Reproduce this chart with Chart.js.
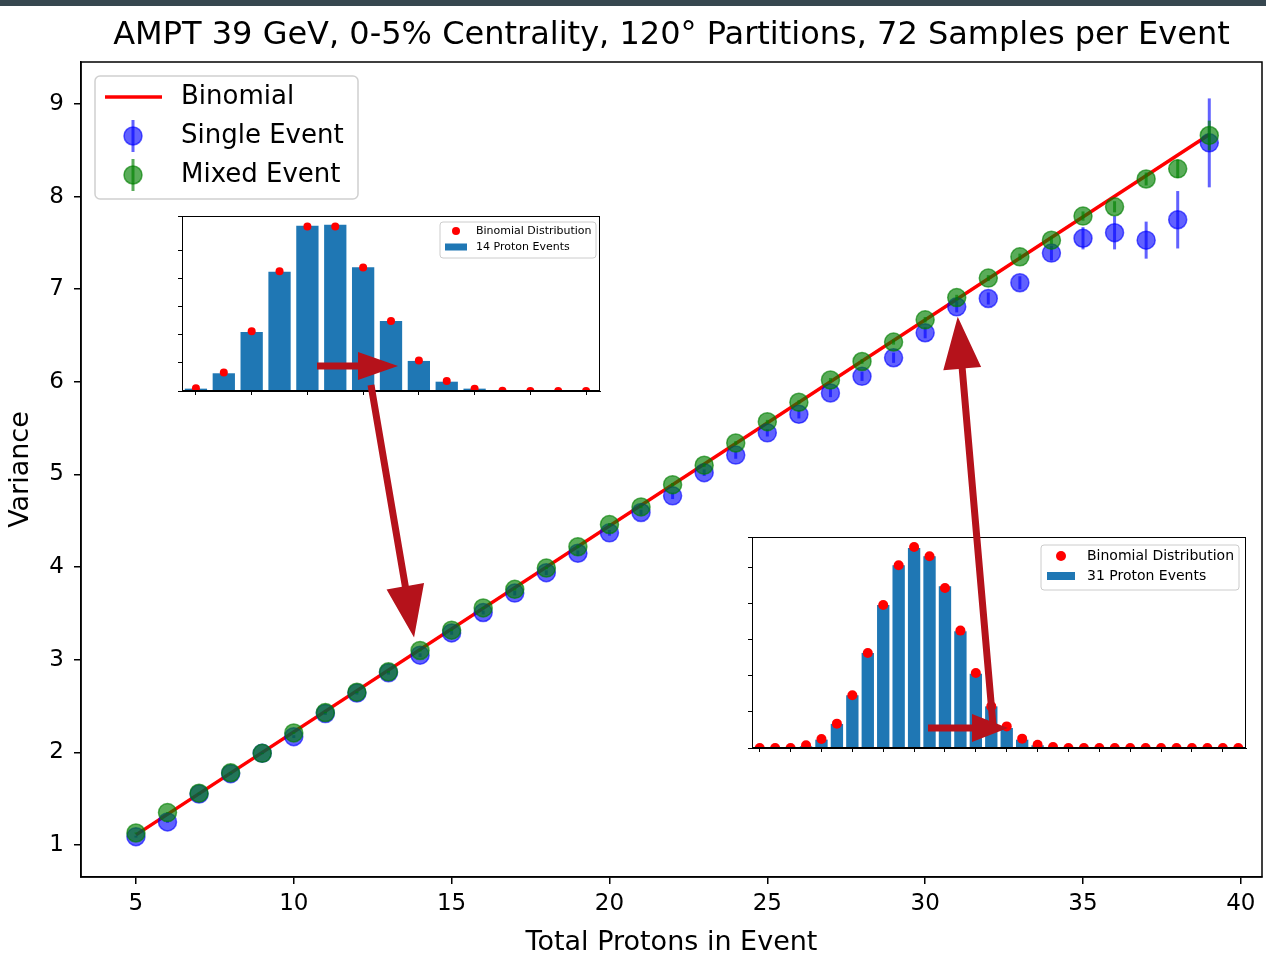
<!DOCTYPE html>
<html>
<head>
<meta charset="utf-8">
<script src="https://cdn.jsdelivr.net/npm/chart.js@4.4.0/dist/chart.umd.min.js"></script>
<style>
body{margin:0;background:#fff;}
#wrap{position:relative;width:1266px;height:962px;overflow:hidden;background:#fff;}
#topbar{position:absolute;left:0;top:0;width:1266px;height:6px;background:#37474f;}
canvas{position:absolute;}
</style>
</head>
<body>
<div id="wrap">
<canvas id="main" width="1266" height="962" style="left:0;top:0"></canvas>
<canvas id="inset1" width="430" height="186" style="left:176px;top:212px"></canvas>
<canvas id="inset2" width="506" height="222" style="left:746px;top:533px"></canvas>
<canvas id="arrows" width="1266" height="962" style="left:0;top:0"></canvas>
<div id="topbar"></div>
</div>
<script>
var FONT = 'DejaVu Sans';
Chart.defaults.font.family = FONT;
Chart.defaults.color = '#000';

var TITLE = 'AMPT 39 GeV, 0-5% Centrality, 120° Partitions, 72 Samples per Event';

// main plot: variance vs total protons
var nVals = [5,6,7,8,9,10,11,12,13,14,15,16,17,18,19,20,21,22,23,24,25,26,27,28,29,30,31,32,33,34,35,36,37,38,39];
var singleVar = [1.09,1.25,1.55,1.77,1.99,2.17,2.42,2.64,2.86,3.05,3.29,3.51,3.72,3.94,4.15,4.37,4.59,4.77,5.02,5.21,5.45,5.65,5.88,6.06,6.26,6.53,6.81,6.90,7.07,7.39,7.55,7.61,7.53,7.75,8.58];
var singleErr = [0.01,0.01,0.01,0.01,0.01,0.015,0.015,0.015,0.02,0.02,0.02,0.02,0.025,0.025,0.03,0.03,0.03,0.035,0.035,0.04,0.04,0.045,0.045,0.05,0.055,0.06,0.06,0.065,0.07,0.08,0.12,0.18,0.20,0.31,0.48];
var mixedVar = [1.13,1.35,1.56,1.78,1.99,2.21,2.43,2.65,2.87,3.10,3.32,3.56,3.76,3.99,4.22,4.46,4.65,4.89,5.10,5.34,5.57,5.78,6.02,6.22,6.43,6.67,6.91,7.12,7.35,7.53,7.79,7.89,8.19,8.30,8.66];
var mixedErr = [0.005,0.005,0.005,0.005,0.005,0.008,0.008,0.008,0.01,0.01,0.01,0.01,0.012,0.012,0.015,0.015,0.015,0.018,0.018,0.02,0.02,0.022,0.022,0.025,0.028,0.03,0.03,0.032,0.035,0.04,0.05,0.06,0.07,0.10,0.16];
var binomN = [5, 39];
var binomVar = [1.11, 8.67];
var xTicks = [5,10,15,20,25,30,35,40];
var yTicks = [1,2,3,4,5,6,7,8,9];

// inset 1: 14 proton events
var inset1K = [0,1,2,3,4,5,6,7,8,9,10,11,12,13,14];
var inset1Counts = [0.0021,0.0158,0.0527,0.1062,0.1473,0.1482,0.1104,0.0625,0.0268,0.0083,0.0021,0,0,0,0];
var inset1Binom = [0.0024,0.0164,0.0533,0.1068,0.1467,0.1467,0.1101,0.0625,0.0271,0.0089,0.0021,0.0003,0,0,0];

// inset 2: 31 proton events
var inset2K = [0,1,2,3,4,5,6,7,8,9,10,11,12,13,14,15,16,17,18,19,20,21,22,23,24,25,26,27,28,29,30,31];
var inset2Counts = [0,0,0,0.0012,0.0058,0.0167,0.0366,0.066,0.0993,0.1269,0.1389,0.1331,0.1123,0.081,0.0516,0.0289,0.0139,0.0058,0.0019,0.0005,0,0,0,0,0,0,0,0,0,0,0,0];
var inset2Binom = [0,0,0,0.0019,0.0063,0.0169,0.0366,0.066,0.0993,0.1269,0.1396,0.1331,0.1111,0.0815,0.0521,0.0289,0.015,0.0065,0.0023,0.0007,0,0,0,0,0,0,0,0,0,0,0,0];

var BLUE = 'rgba(0,0,255,0.62)';
var GREEN = 'rgba(0,128,0,0.65)';
var ARROW = '#b5121b';

function pts(xs, ys) {
    return xs.map(function (x, i) { return {x: x, y: ys[i]}; });
}

var errorBars = {
    id: 'errorBars',
    beforeDatasetDraw: function (chart, args) {
        var ds = chart.data.datasets[args.index];
        if (!ds.errors) return;
        var ctx = chart.ctx, xs = chart.scales.x, ys = chart.scales.y;
        ctx.save();
        ctx.strokeStyle = ds.borderColor;
        ctx.lineWidth = 3;
        ds.data.forEach(function (p, i) {
            var x = xs.getPixelForValue(p.x);
            ctx.beginPath();
            ctx.moveTo(x, ys.getPixelForValue(p.y - ds.errors[i]));
            ctx.lineTo(x, ys.getPixelForValue(p.y + ds.errors[i]));
            ctx.stroke();
        });
        ctx.restore();
    }
};

var mainDecor = {
    id: 'mainDecor',
    afterDraw: function (chart) {
        var ctx = chart.ctx, a = chart.chartArea;
        ctx.save();
        ctx.strokeStyle = '#000';
        ctx.lineWidth = 1.5;
        ctx.strokeRect(a.left, a.top, a.right - a.left, a.bottom - a.top);

        // title, centred over the axes
        ctx.font = '32px "' + FONT + '"';
        ctx.fillStyle = '#000';
        ctx.textAlign = 'center';
        ctx.textBaseline = 'middle';
        ctx.fillText(TITLE, (a.left + a.right) / 2, a.top - 26);

        // legend box
        var bx = a.left + 14, by = a.top + 14;
        ctx.beginPath();
        ctx.roundRect(bx, by, 263, 123, 5);
        ctx.fillStyle = 'rgba(255,255,255,0.8)';
        ctx.fill();
        ctx.strokeStyle = '#d0d0d0';
        ctx.lineWidth = 1.5;
        ctx.stroke();

        ctx.font = '26px "' + FONT + '"';
        ctx.textBaseline = 'middle';
        ctx.textAlign = 'left';
        var ds = chart.data.datasets;
        [0, 1, 2].forEach(function (k, row) {
            var d = ds[k], y = by + 21 + row * 39, mx = bx + 38;
            if (d.errors) {
                ctx.strokeStyle = d.borderColor;
                ctx.lineWidth = 3;
                ctx.beginPath();
                ctx.moveTo(mx, y - 16);
                ctx.lineTo(mx, y + 16);
                ctx.stroke();
                ctx.beginPath();
                ctx.arc(mx, y, 9, 0, Math.PI * 2);
                ctx.fillStyle = d.backgroundColor;
                ctx.fill();
                ctx.lineWidth = 1.5;
                ctx.stroke();
            } else {
                ctx.strokeStyle = d.borderColor;
                ctx.lineWidth = 3.5;
                ctx.beginPath();
                ctx.moveTo(bx + 10, y);
                ctx.lineTo(bx + 67, y);
                ctx.stroke();
            }
            ctx.fillStyle = '#000';
            ctx.fillText(d.label, bx + 86, y);
        });
        ctx.restore();
    }
};

var mainChart = new Chart(document.getElementById('main'), {
    type: 'scatter',
    data: {
        datasets: [
            {
                label: 'Binomial',
                type: 'line',
                data: pts(binomN, binomVar),
                borderColor: '#ff0000',
                borderWidth: 3.5,
                pointRadius: 0,
                fill: false,
                order: 3
            },
            {
                label: 'Single Event',
                data: pts(nVals, singleVar),
                errors: singleErr,
                backgroundColor: BLUE,
                borderColor: BLUE,
                borderWidth: 1.5,
                pointRadius: 9,
                order: 2
            },
            {
                label: 'Mixed Event',
                data: pts(nVals, mixedVar),
                errors: mixedErr,
                backgroundColor: GREEN,
                borderColor: GREEN,
                borderWidth: 1.5,
                pointRadius: 9,
                order: 1
            }
        ]
    },
    options: {
        responsive: false,
        animation: false,
        layout: {autoPadding: false, padding: {left: 0, right: 4, top: 62, bottom: 0}},
        plugins: {
            legend: {display: false},
            tooltip: {enabled: false},
            title: {display: false}
        },
        scales: {
            x: {
                type: 'linear',
                min: 3.26,
                max: 40.67,
                afterBuildTicks: function (s) { s.ticks = xTicks.map(function (v) { return {value: v}; }); },
                afterFit: function (s) { s.height = 85; s.paddingLeft = 0; s.paddingRight = 0; },
                grid: {drawOnChartArea: false, tickLength: 7, color: '#000', lineWidth: 1.5},
                border: {color: '#000', width: 1.5},
                ticks: {font: {size: 23}, color: '#000', padding: 6, maxRotation: 0},
                title: {display: true, text: 'Total Protons in Event', font: {size: 27}, color: '#000', padding: {top: 4, bottom: 3}}
            },
            y: {
                type: 'linear',
                min: 0.655,
                max: 9.453,
                afterBuildTicks: function (s) { s.ticks = yTicks.map(function (v) { return {value: v}; }); },
                afterFit: function (s) { s.width = 81; s.paddingTop = 0; s.paddingBottom = 0; },
                grid: {drawOnChartArea: false, tickLength: 7, color: '#000', lineWidth: 1.5},
                border: {color: '#000', width: 1.5},
                ticks: {font: {size: 23}, color: '#000', padding: 10},
                title: {display: true, text: 'Variance', font: {size: 27}, color: '#000', padding: {top: 5, bottom: 0}}
            }
        }
    },
    plugins: [errorBars, mainDecor]
});

function insetDecor(lg) {
    return {
        id: 'insetDecor',
        beforeDraw: function (chart) {
            var ctx = chart.ctx, a = chart.chartArea;
            ctx.save();
            ctx.fillStyle = '#fff';
            ctx.fillRect(a.left, a.top, a.right - a.left, a.bottom - a.top);
            ctx.restore();
        },
        afterDraw: function (chart) {
            var ctx = chart.ctx, a = chart.chartArea;
            ctx.save();
            ctx.strokeStyle = '#000';
            ctx.lineWidth = 1;
            ctx.strokeRect(a.left + 0.5, a.top + 0.5, a.right - a.left - 1, a.bottom - a.top - 1);

            var bx = a.right - lg.right - lg.w, by = a.top + lg.top;
            ctx.beginPath();
            ctx.roundRect(bx, by, lg.w, lg.h, 3);
            ctx.fillStyle = 'rgba(255,255,255,0.85)';
            ctx.fill();
            ctx.strokeStyle = '#cccccc';
            ctx.stroke();

            var ds = chart.data.datasets;
            ctx.font = lg.font + 'px "' + FONT + '"';
            ctx.textBaseline = 'middle';
            ctx.textAlign = 'left';
            // binomial dots
            ctx.fillStyle = '#ff0000';
            ctx.beginPath();
            ctx.arc(bx + lg.dotX, by + lg.row1, lg.dotR, 0, Math.PI * 2);
            ctx.fill();
            ctx.fillStyle = '#000';
            ctx.fillText(ds[0].label, bx + lg.textX, by + lg.row1);
            // bars
            ctx.fillStyle = '#1f77b4';
            ctx.fillRect(bx + lg.rectX, by + lg.row2 - lg.rectH / 2, lg.rectW, lg.rectH);
            ctx.fillStyle = '#000';
            ctx.fillText(ds[1].label, bx + lg.textX, by + lg.row2);
            ctx.restore();
        }
    };
}

function makeInset(id, labels, counts, binom, yMax, dotR, countLabel, lg) {
    return new Chart(document.getElementById(id), {
        type: 'bar',
        data: {
            labels: labels,
            datasets: [
                {
                    type: 'line',
                    label: 'Binomial Distribution',
                    data: binom,
                    showLine: false,
                    pointRadius: dotR,
                    pointBackgroundColor: '#ff0000',
                    pointBorderColor: '#ff0000',
                    pointBorderWidth: 0,
                    clip: 0,
                    order: 0
                },
                {
                    label: countLabel,
                    data: counts,
                    backgroundColor: '#1f77b4',
                    barPercentage: 0.8,
                    categoryPercentage: 1,
                    order: 1
                }
            ]
        },
        options: {
            responsive: false,
            animation: false,
            layout: {autoPadding: false, padding: {top: 4, right: 6, left: 0, bottom: 0}},
            plugins: {legend: {display: false}, tooltip: {enabled: false}},
            scales: {
                x: {
                    grid: {
                        offset: false,
                        drawOnChartArea: false,
                        tickLength: 4,
                        color: function (c) { return c.index % 2 === 0 ? '#000' : 'rgba(0,0,0,0)'; }
                    },
                    border: {color: '#000'},
                    ticks: {display: false, autoSkip: false},
                    afterFit: function (s) { s.height = 7; }
                },
                y: {
                    min: 0,
                    max: yMax,
                    ticks: {display: false, stepSize: 0.025},
                    grid: {drawOnChartArea: false, tickLength: 4, color: '#000'},
                    border: {color: '#000'},
                    afterFit: function (s) { s.width = 6; }
                }
            }
        },
        plugins: [insetDecor(lg)]
    });
}

var inset1 = makeInset('inset1', inset1K, inset1Counts, inset1Binom, 0.156, 4, '14 Proton Events',
    {right: 4, top: 6, w: 156, h: 36, font: 11, row1: 9, row2: 25, dotX: 16, dotR: 4, rectX: 5, rectW: 22, rectH: 7, textX: 36});
var inset2 = makeInset('inset2', inset2K, inset2Counts, inset2Binom, 0.1465, 5, '31 Proton Events',
    {right: 7, top: 8, w: 198, h: 45, font: 14, row1: 11, row2: 31, dotX: 20, dotR: 5, rectX: 6, rectW: 28, rectH: 8, textX: 46});

// annotation arrows, tips anchored to the main plot's data points
function arrow(ctx, x0, y0, x1, y1, w, hl, hw) {
    var dx = x1 - x0, dy = y1 - y0, len = Math.hypot(dx, dy);
    var ux = dx / len, uy = dy / len, px = -uy, py = ux;
    var bx = x1 - ux * hl, by = y1 - uy * hl;
    ctx.beginPath();
    ctx.moveTo(x0 + px * w / 2, y0 + py * w / 2);
    ctx.lineTo(bx + px * w / 2, by + py * w / 2);
    ctx.lineTo(bx + px * hw / 2, by + py * hw / 2);
    ctx.lineTo(x1, y1);
    ctx.lineTo(bx - px * hw / 2, by - py * hw / 2);
    ctx.lineTo(bx - px * w / 2, by - py * w / 2);
    ctx.lineTo(x0 - px * w / 2, y0 - py * w / 2);
    ctx.closePath();
    ctx.fill();
}

var actx = document.getElementById('arrows').getContext('2d');
actx.fillStyle = ARROW;
var sx = mainChart.scales.x, sy = mainChart.scales.y;
var tip1 = {x: sx.getPixelForValue(14) - 6, y: sy.getPixelForValue(mixedVar[9]) - 13};
var tip2 = {x: sx.getPixelForValue(31) + 1, y: sy.getPixelForValue(singleVar[26]) + 10};
arrow(actx, 371, 385, tip1.x, tip1.y, 7, 52, 38);
arrow(actx, 993, 725, tip2.x, tip2.y, 7, 52, 38);
arrow(actx, 317, 366, 398, 366, 7, 40, 28);
arrow(actx, 928, 728, 1008, 728, 7, 36, 28);
</script>
</body>
</html>
